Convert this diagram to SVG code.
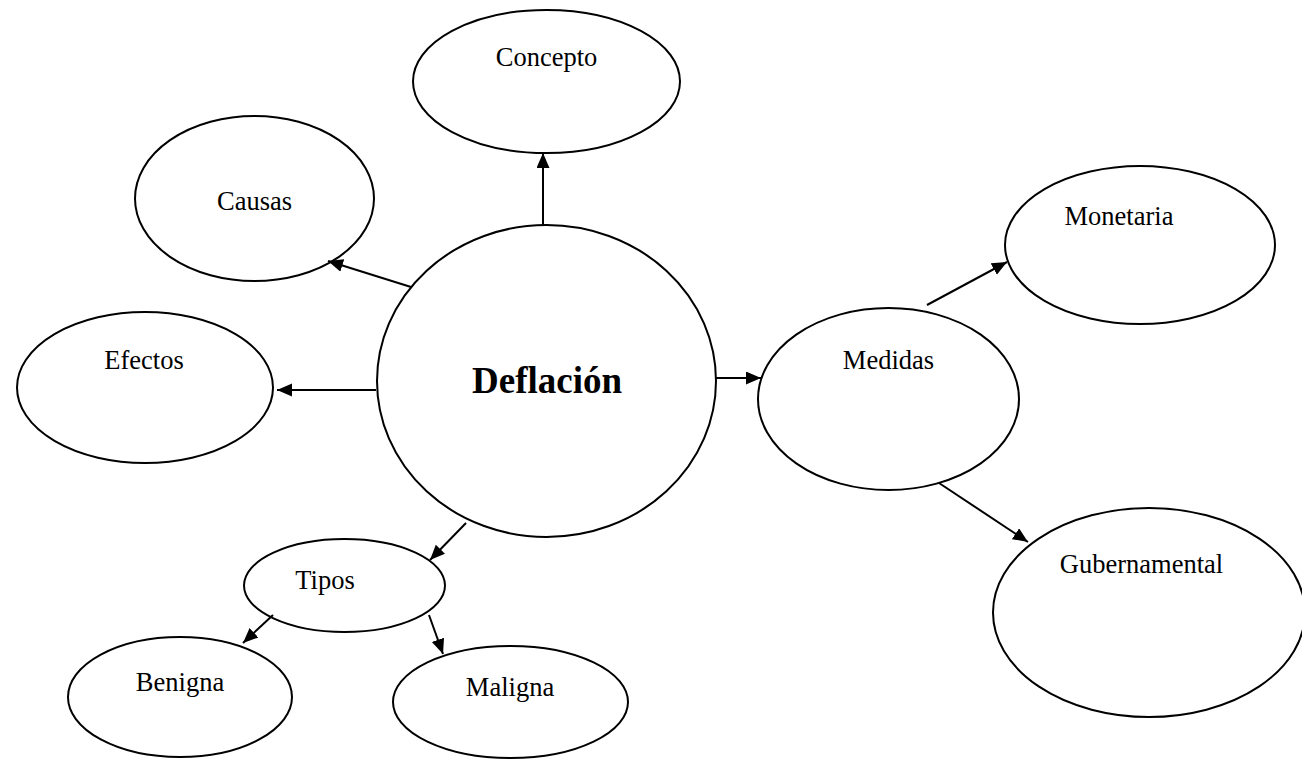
<svg xmlns="http://www.w3.org/2000/svg" width="1302" height="760" viewBox="0 0 1302 760">
<style>
.n{fill:#fff;stroke:#000;stroke-width:2}
.t{font-family:"Liberation Serif","Times New Roman",serif;font-size:26.5px;fill:#000;text-anchor:middle}
.b{font-size:37px;font-weight:bold}
.c{stroke:#000;stroke-width:2;fill:none;marker-end:url(#ah)}
</style>
<defs>
<marker id="ah" markerUnits="userSpaceOnUse" markerWidth="16" markerHeight="14" refX="15" refY="6.5" orient="auto">
<path d="M0,0 L15,6.5 L0,13 Z" fill="#000"/>
</marker>
</defs>
<rect width="1302" height="760" fill="#fff"/>
<g id="concepto"><ellipse class="n" cx="546.5" cy="81.5" rx="133.5" ry="71.5"/><text class="t" x="546.5" y="66">Concepto</text></g>
<g id="causas"><ellipse class="n" cx="254.5" cy="198.5" rx="119.5" ry="82.5"/><text class="t" x="254.5" y="210">Causas</text></g>
<g id="efectos"><ellipse class="n" cx="145" cy="387.5" rx="128" ry="75.5"/><text class="t" x="144" y="369">Efectos</text></g>
<g id="deflacion"><ellipse class="n" cx="546.5" cy="381" rx="169.5" ry="156"/><text class="t b" x="547" y="393">Deflación</text></g>
<g id="medidas"><ellipse class="n" cx="888.5" cy="399" rx="130.5" ry="91"/><text class="t" x="888.5" y="369">Medidas</text></g>
<g id="monetaria"><ellipse class="n" cx="1140" cy="245" rx="135" ry="79"/><text class="t" x="1119" y="225">Monetaria</text></g>
<g id="gubernamental"><ellipse class="n" cx="1149" cy="612.5" rx="156" ry="104.5"/><text class="t" x="1141.5" y="573">Gubernamental</text></g>
<g id="tipos"><ellipse class="n" cx="344.5" cy="585.5" rx="100.5" ry="46.5"/><text class="t" x="325" y="589">Tipos</text></g>
<g id="benigna"><ellipse class="n" cx="180" cy="697" rx="112" ry="60"/><text class="t" x="180" y="691">Benigna</text></g>
<g id="maligna"><ellipse class="n" cx="510.5" cy="702" rx="117.5" ry="56"/><text class="t" x="510" y="696">Maligna</text></g>
<g id="connectors">
<line class="c" x1="543" y1="226" x2="543" y2="153"/>
<line class="c" x1="411" y1="287" x2="328" y2="261"/>
<line class="c" x1="376" y1="390" x2="277" y2="390"/>
<line class="c" x1="716" y1="378" x2="761" y2="378"/>
<line class="c" x1="927" y1="305" x2="1007" y2="262"/>
<line class="c" x1="939" y1="483" x2="1028" y2="542"/>
<line class="c" x1="466" y1="523" x2="430" y2="560"/>
<line class="c" x1="273" y1="615" x2="243" y2="643"/>
<line class="c" x1="429" y1="615" x2="443" y2="654"/>
</g>
</svg>
